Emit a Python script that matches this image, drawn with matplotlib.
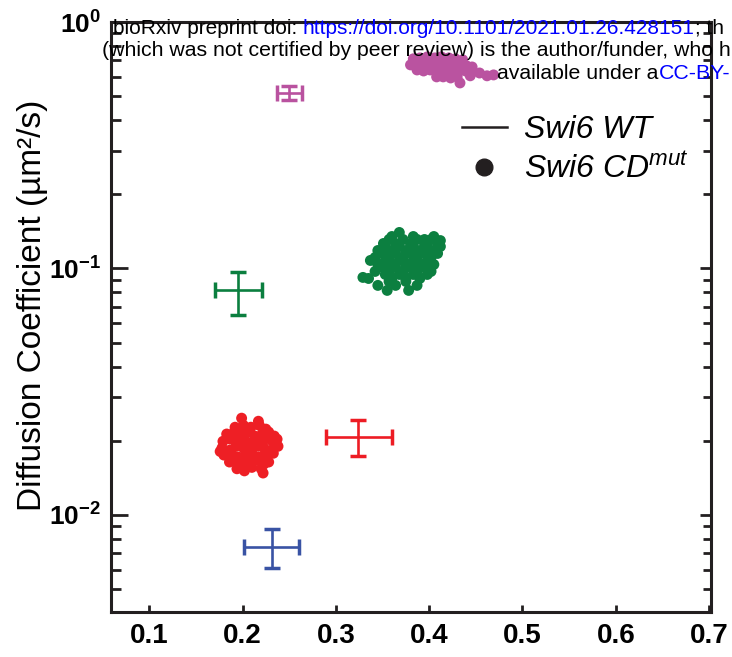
import matplotlib
matplotlib.use("Agg")
import matplotlib.pyplot as plt
from matplotlib import font_manager
from matplotlib.lines import Line2D
from matplotlib.ticker import FixedLocator, FixedFormatter, NullFormatter
from matplotlib.transforms import IdentityTransform

# pick a condensed bold face for the tick labels if there is one
installed = {f.name for f in font_manager.fontManager.ttflist}
narrow = 'Liberation Sans Narrow' if 'Liberation Sans Narrow' in installed else 'Liberation Sans'

plt.rcParams['font.family'] = ['Liberation Sans', 'DejaVu Sans']
plt.rcParams['mathtext.fontset'] = 'custom'
plt.rcParams['mathtext.rm'] = 'Liberation Sans'
plt.rcParams['mathtext.it'] = 'Liberation Sans:italic'
plt.rcParams['mathtext.bf'] = narrow + ':bold'

# Swi6 WT: mean with error range (green, red, blue, magenta)
wt_x = [0.195, 0.324, 0.232, 0.250]
wt_x_lo = [0.170, 0.289, 0.202, 0.237]
wt_x_hi = [0.221, 0.360, 0.261, 0.264]
wt_y = [0.0815, 0.0207, 0.00742, 0.516]
wt_y_lo = [0.0646, 0.0173, 0.0061, 0.483]
wt_y_hi = [0.0972, 0.0243, 0.00877, 0.551]
wt_colors = ['#0b7f3f', '#ed1c24', '#3953a4', '#b9529f']

# Swi6 CDmut: point clouds
red_x = [0.199, 0.217,
         0.192, 0.201, 0.209, 0.218, 0.225,
         0.183, 0.191, 0.198, 0.206, 0.213, 0.221, 0.228, 0.234,
         0.179, 0.187, 0.194, 0.202, 0.209, 0.217, 0.224, 0.232, 0.237,
         0.178, 0.186, 0.193, 0.201, 0.208, 0.216, 0.223, 0.231, 0.235,
         0.180, 0.188, 0.195, 0.203, 0.210, 0.218, 0.225, 0.233,
         0.186, 0.193, 0.201, 0.208, 0.216, 0.223, 0.228,
         0.194, 0.202, 0.210, 0.220,
         0.222, 0.176, 0.238]
red_y = [0.0247, 0.0240,
         0.0227, 0.0231, 0.0227, 0.0231, 0.0223,
         0.0213, 0.0217, 0.0213, 0.0217, 0.0209, 0.0213, 0.0217, 0.0209,
         0.0199, 0.0203, 0.0199, 0.0203, 0.0196, 0.0199, 0.0203, 0.0199, 0.0203,
         0.0187, 0.0183, 0.0190, 0.0187, 0.0183, 0.0190, 0.0187, 0.0183, 0.0190,
         0.0175, 0.0178, 0.0172, 0.0175, 0.0178, 0.0172, 0.0175, 0.0178,
         0.0164, 0.0167, 0.0161, 0.0164, 0.0167, 0.0161, 0.0164,
         0.0154, 0.0151, 0.0156, 0.0154,
         0.0148, 0.0181, 0.0190]

green_x = [0.360, 0.368, 0.383, 0.395, 0.405,
           0.351, 0.357, 0.364, 0.372, 0.380, 0.387, 0.395, 0.402, 0.409,
           0.345, 0.353, 0.360, 0.368, 0.375, 0.383, 0.390, 0.398, 0.405, 0.412,
           0.342, 0.350, 0.357, 0.364, 0.372, 0.380, 0.387, 0.395, 0.402, 0.409,
           0.337, 0.345, 0.353, 0.360, 0.368, 0.375, 0.383, 0.390, 0.398, 0.405,
           0.342, 0.350, 0.357, 0.364, 0.372, 0.380, 0.387, 0.395, 0.402,
           0.335, 0.353, 0.360, 0.368, 0.375, 0.383, 0.390, 0.398,
           0.345, 0.357, 0.364, 0.375, 0.387,
           0.329, 0.355, 0.378, 0.412]
green_y = [0.1348, 0.1400, 0.1348, 0.1311, 0.1348,
           0.1263, 0.1311, 0.1263, 0.1311, 0.1263, 0.1311, 0.1263, 0.1311, 0.1263,
           0.1183, 0.1228, 0.1183, 0.1228, 0.1183, 0.1228, 0.1183, 0.1228, 0.1183, 0.1228,
           0.1108, 0.1151, 0.1108, 0.1151, 0.1108, 0.1151, 0.1108, 0.1151, 0.1108, 0.1151,
           0.1078, 0.1038, 0.1078, 0.1038, 0.1078, 0.1038, 0.1078, 0.1038, 0.1078, 0.1038,
           0.0973, 0.1010, 0.0973, 0.1010, 0.0973, 0.1010, 0.0973, 0.1010, 0.0973,
           0.0911, 0.0946, 0.0911, 0.0946, 0.0911, 0.0946, 0.0911, 0.0946,
           0.0854, 0.0886, 0.0854, 0.0886, 0.0854,
           0.0920, 0.0815, 0.0815, 0.1298]

magenta_x = [0.383, 0.390, 0.398, 0.406, 0.413, 0.421, 0.428, 0.436,
             0.380, 0.388, 0.395, 0.402, 0.410, 0.417, 0.425, 0.432, 0.440, 0.446,
             0.387, 0.394, 0.401, 0.409, 0.416, 0.424, 0.431, 0.439, 0.446, 0.454,
             0.408, 0.415, 0.423, 0.430, 0.444,
             0.462, 0.469, 0.433]
magenta_y = [0.709, 0.715, 0.722, 0.715, 0.722, 0.715, 0.709, 0.702,
             0.670, 0.676, 0.670, 0.676, 0.670, 0.670, 0.676, 0.664, 0.664, 0.657,
             0.639, 0.633, 0.639, 0.633, 0.633, 0.627, 0.627, 0.633, 0.627, 0.621,
             0.599, 0.599, 0.593, 0.599, 0.605,
             0.605, 0.610, 0.566]

x_ticks = [0.1, 0.2, 0.3, 0.4, 0.5, 0.6, 0.7]
y_ticks = [0.01, 0.1, 1.0]
y_tick_labels = [r'$\mathbf{10^{-2}}$', r'$\mathbf{10^{-1}}$', r'$\mathbf{10^{0}}$']
y_minor = [m * d for d in (0.001, 0.01, 0.1) for m in range(2, 10)]

legend_labels = ['Swi6 WT', r'Swi6 CD$^{mut}$']

fig = plt.figure(figsize=(7.32, 6.57), dpi=100)
ax = fig.add_axes([0.1516, 0.0685, 0.8197, 0.898])
ax.set_yscale('log')
ax.set_xlim(0.059, 0.702)
ax.set_ylim(0.00404, 1.0)

clouds = [(red_x, red_y, '#ee1f25'), (green_x, green_y, '#0c7f40'), (magenta_x, magenta_y, '#ba53a0')]
for cx, cy, col in clouds:
    ax.scatter(cx, cy, s=62, color=col, edgecolors='none', zorder=3)

for i in range(len(wt_x)):
    xerr = [[wt_x[i] - wt_x_lo[i]], [wt_x_hi[i] - wt_x[i]]]
    yerr = [[wt_y[i] - wt_y_lo[i]], [wt_y_hi[i] - wt_y[i]]]
    ax.errorbar([wt_x[i]], [wt_y[i]], xerr=xerr, yerr=yerr, fmt='none',
                ecolor=wt_colors[i], elinewidth=1.9, capsize=5.5, capthick=2.5, zorder=4)

# axes styling
for side in ['left', 'right', 'top', 'bottom']:
    ax.spines[side].set_linewidth(2.2)
    ax.spines[side].set_color('#231f20')

ax.xaxis.set_major_locator(FixedLocator(x_ticks))
ax.set_xticklabels([f'{t:.1f}' for t in x_ticks])
ax.yaxis.set_major_locator(FixedLocator(y_ticks))
ax.yaxis.set_major_formatter(FixedFormatter(y_tick_labels))
ax.yaxis.set_minor_locator(FixedLocator(y_minor))
ax.yaxis.set_minor_formatter(NullFormatter())

ax.tick_params(axis='x', which='major', direction='in', length=5, width=2, pad=8,
               top=False, labelsize=20, color='#231f20')
ax.tick_params(axis='y', which='major', direction='in', length=12, width=2, pad=7,
               right=True, labelsize=19, color='#231f20')
ax.tick_params(axis='y', which='minor', direction='in', length=7, width=2,
               right=True, color='#231f20')
for lab in ax.get_xticklabels():
    lab.set_fontfamily(narrow)
    lab.set_fontweight('bold')
for t in ax.yaxis.get_major_ticks():
    t.tick2line.set_markersize(8)
for t in ax.yaxis.get_minor_ticks():
    t.tick2line.set_markersize(5.5)

ax.set_ylabel('Diffusion Coefficient (µm²/s)', fontsize=24)
ax.yaxis.set_label_coords(-0.105, 0.52)

handles = [Line2D([], [], color='#231f20', lw=1.8),
           Line2D([], [], color='#231f20', marker='o', ls='none', markersize=12)]
ax.legend(handles, legend_labels, loc='upper left', bbox_to_anchor=(0.585, 0.842),
          frameon=False, prop={'style': 'italic', 'size': 23}, handlelength=1.4,
          handletextpad=0.55, borderpad=0, borderaxespad=0, labelspacing=0.3)

# preprint banner laid over the top of the figure (cut at the right edge as in the source)
renderer = fig.canvas.get_renderer()
H = 657


def banner(x, y, pieces, size=15.3):
    for txt, col in pieces:
        t = fig.text(x, H - y, txt, color=col, fontsize=size, va='baseline',
                     transform=IdentityTransform(), zorder=10)
        x = t.get_window_extent(renderer).x1


banner(113, 34, [('bioRxiv preprint doi: ', 'black'),
                 ('https://doi.org/10.1101/2021.01.26.428151', '#0000ff'),
                 ('; th', 'black')], size=15.0)
banner(102, 56, [('(which was not certified by peer review) is the author/funder, who h', 'black')])
banner(497, 79, [('available under a', 'black'),
                 ('CC-BY-', '#0000ff')])

fig.savefig('out.png', dpi=100)
